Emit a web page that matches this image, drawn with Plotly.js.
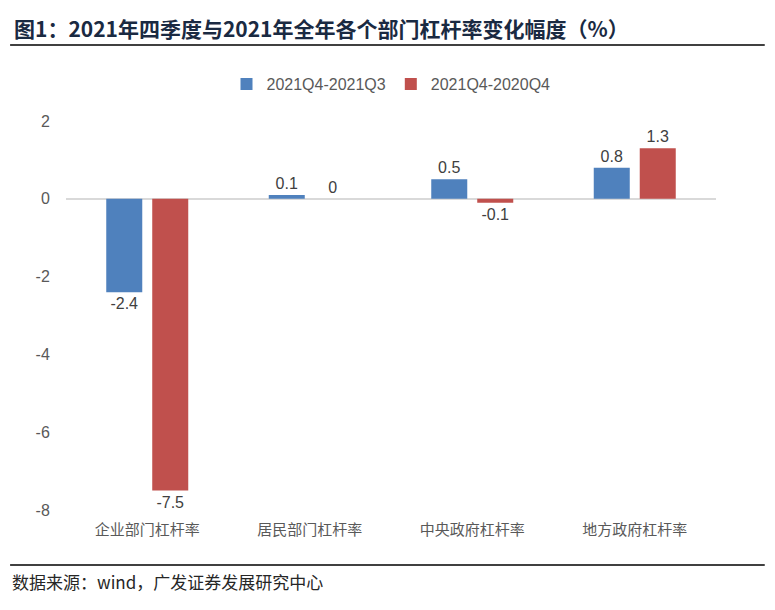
<!DOCTYPE html>
<html><head><meta charset="utf-8">
<script src="https://cdn.plot.ly/plotly-3.0.1.min.js"></script>
<style>html,body{margin:0;padding:0;background:#fff}#chart{width:775px;height:610px}</style>
</head><body><div id="chart"></div>
<script>
const categories = ['企业部门杠杆率','居民部门杠杆率','中央政府杠杆率','地方政府杠杆率'];
const seriesNames = ['2021Q4-2021Q3','2021Q4-2020Q4'];
const qoq = [-2.4, 0.1, 0.5, 0.8];
const yoy = [-7.5, 0, -0.1, 1.3];
const yTicks = [2, 0, -2, -4, -6, -8];

const H = 389; // plot height in px
const py = px => (510 - px) / H; // pixel row -> paper y
const labelFont = {family:'"Liberation Sans", Arial, sans-serif', size:16, color:'#404040'};
const traces = [
  {type:'bar', name:seriesNames[0], x:categories, y:qoq, marker:{color:'#4f81bd'},
   text:qoq.map(String), textposition:'outside', textfont:labelFont, cliponaxis:false, hoverinfo:'none'},
  {type:'bar', name:seriesNames[1], x:categories, y:yoy, marker:{color:'#c0504d'},
   text:yoy.map(String), textposition:'outside', textfont:labelFont, cliponaxis:false, hoverinfo:'none'}
];
const layout = {
  width:775, height:610,
  margin:{l:66, r:59, t:121, b:100},
  paper_bgcolor:'#fff', plot_bgcolor:'#fff',
  barmode:'group', bargap:0.434, bargroupgap:0.217,
  showlegend:true,
  legend:{orientation:'h', x:0.5, xanchor:'center', y:py(84), yanchor:'middle', yref:'paper',
    font:{family:'"Liberation Sans", Arial, sans-serif', size:16, color:'#595959'}, traceorder:'normal'},
  xaxis:{showgrid:false, showline:false, zeroline:false, ticks:'', ticklabelstandoff:9,
    tickfont:{family:'"Noto Sans CJK SC", sans-serif', size:15, color:'#595959'}, fixedrange:true},
  yaxis:{range:[-8,2], tickvals:yTicks, ticktext:yTicks.map(String), showgrid:false, showline:false,
    zeroline:true, zerolinecolor:'#d9d9d9', zerolinewidth:1.5, ticks:'outside', ticklen:12, tickcolor:'rgba(0,0,0,0)',
    tickfont:{family:'"Liberation Sans", Arial, sans-serif', size:16, color:'#595959'}, fixedrange:true},
  annotations:[
    {text:'<b>图1：2021年四季度与2021年全年各个部门杠杆率变化幅度（%）</b>', xref:'paper', yref:'paper',
     x:-0.083, y:py(28), xanchor:'left', yanchor:'middle', showarrow:false,
     font:{family:'"Noto Sans CJK SC", sans-serif', size:21, color:'#1a2a42'}},
    {text:'数据来源：wind，广发证券发展研究中心', xref:'paper', yref:'paper',
     x:-0.086, y:py(581), xanchor:'left', yanchor:'middle', showarrow:false,
     font:{family:'"Noto Sans CJK SC", sans-serif', size:17, color:'#262626'}}
  ],
  shapes:[
    {type:'line', xref:'paper', yref:'paper', x0:-0.086, x1:1.075, y0:py(45), y1:py(45), line:{color:'#000', width:1.5}},
    {type:'line', xref:'paper', yref:'paper', x0:-0.086, x1:1.075, y0:py(565), y1:py(565), line:{color:'#000', width:1.5}}
  ]
};
Plotly.newPlot('chart', traces, layout, {displayModeBar:false, staticPlot:true});
</script></body></html>
